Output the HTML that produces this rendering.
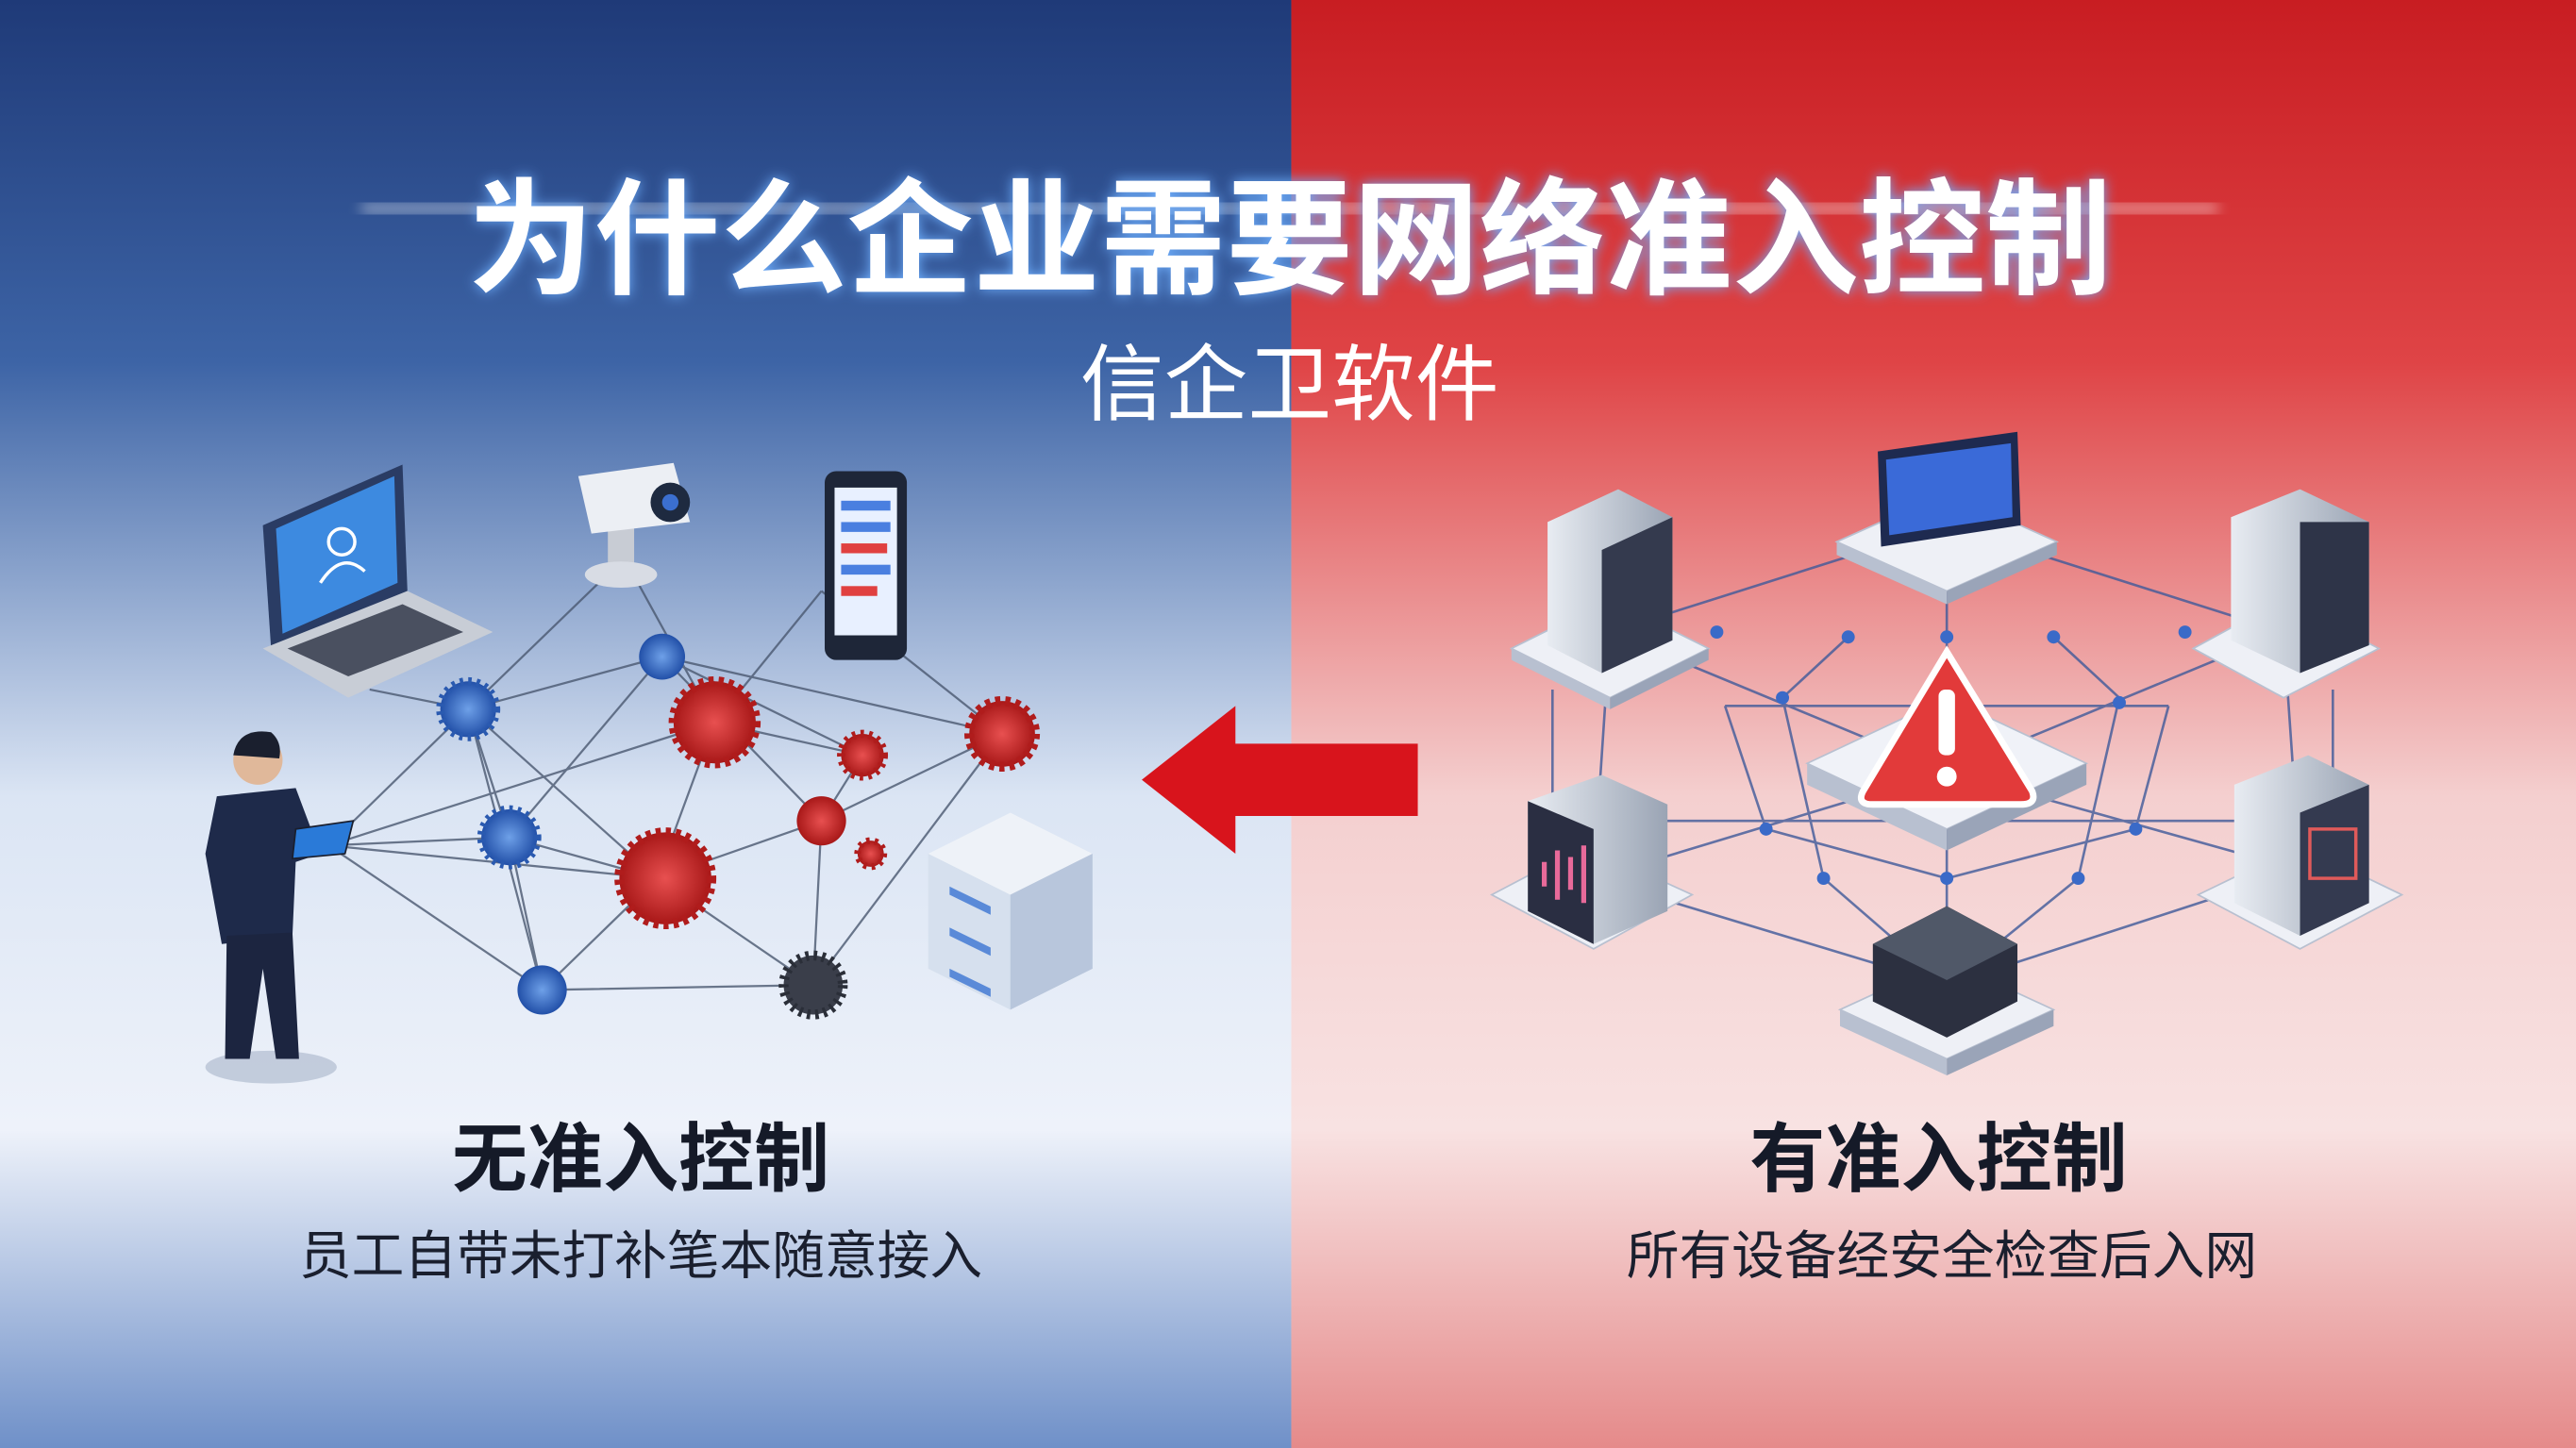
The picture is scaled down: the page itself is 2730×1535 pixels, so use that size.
<!DOCTYPE html>
<html><head><meta charset="utf-8"><style>
html,body{margin:0;padding:0;width:2730px;height:1535px;overflow:hidden}
svg{display:block}
text{font-family:"Liberation Sans","Noto Sans CJK SC",sans-serif}
</style></head><body>
<svg width="2730" height="1535" viewBox="0 0 1568 882" preserveAspectRatio="none" xmlns="http://www.w3.org/2000/svg">
<defs>
<linearGradient id="lb" x1="0" y1="0" x2="0" y2="1">
<stop offset="0" stop-color="#1f3a78"/><stop offset="0.25" stop-color="#3d64a6"/><stop offset="0.55" stop-color="#dbe5f4"/><stop offset="0.78" stop-color="#eef2fa"/><stop offset="1" stop-color="#6f90c8"/></linearGradient>
<linearGradient id="rb" x1="0" y1="0" x2="0" y2="1">
<stop offset="0" stop-color="#c81d22"/><stop offset="0.25" stop-color="#df4446"/><stop offset="0.55" stop-color="#f4cfcf"/><stop offset="0.78" stop-color="#f8e2e2"/><stop offset="1" stop-color="#e58a8a"/></linearGradient>
<radialGradient id="vr"><stop offset="0" stop-color="#e85050"/><stop offset="1" stop-color="#a81818"/></radialGradient>
<radialGradient id="vb"><stop offset="0" stop-color="#6ea0e8"/><stop offset="1" stop-color="#2250a8"/></radialGradient>
<filter id="gl"><feGaussianBlur stdDeviation="4"/></filter>
<linearGradient id="srv" x1="0" y1="0" x2="1" y2="0"><stop offset="0" stop-color="#e8ecf2"/><stop offset="1" stop-color="#9aa4b4"/></linearGradient>
</defs>
<rect x="0" y="0" width="786" height="882" fill="url(#lb)"/>
<rect x="786" y="0" width="782" height="882" fill="url(#rb)"/>
<!-- glow lines -->
<rect x="220" y="124" width="1130" height="6" fill="#ffffff" opacity="0.5" filter="url(#gl)"/>
<!-- title -->
<text x="785" y="173" text-anchor="middle" font-size="77" font-weight="bold" fill="#6fb0ff" filter="url(#gl)">为什么企业需要网络准入控制</text>
<text x="785" y="173" text-anchor="middle" font-size="77" font-weight="bold" fill="#ffffff">为什么企业需要网络准入控制</text>
<text x="785" y="252" text-anchor="middle" font-size="51" fill="#ffffff">信企卫软件</text>

<!-- LEFT network lines -->
<g stroke="#4a5870" stroke-width="1.3" fill="none" opacity="0.8">
<path d="M380 340 L285 432 L310 510 L330 603 L495 600 L610 447 L500 500 L400 535 L330 603"/>
<path d="M380 340 L435 440 L400 535 L285 432 L200 515 L330 603"/>
<path d="M403 400 L285 432 M403 400 L610 447 M403 400 L500 500 M403 400 L310 510 M403 400 L525 460"/>
<path d="M500 360 L435 440 M500 360 L610 447 M200 515 L400 535 M200 515 L310 510 M200 515 L435 440 M225 420 L285 432"/>
<path d="M435 440 L525 460 L500 500 L495 600 M310 510 L400 535 L495 600 M330 603 L285 432"/>
</g>
<!-- laptop -->
<g><polygon points="160,320 245,283 248,360 165,395" fill="#2a3c64"/><polygon points="168,322 240,290 242,355 172,386" fill="#3d8ae0"/>
<circle cx="208" cy="330" r="8" fill="none" stroke="#fff" stroke-width="2"/><path d="M195 355 Q208 335 222 348" stroke="#fff" stroke-width="2" fill="none"/>
<polygon points="160,395 248,360 300,385 212,425" fill="#c8cdd6"/><polygon points="175,395 245,368 282,385 212,412" fill="#4a5060"/></g>
<!-- camera -->
<g><rect x="370" y="320" width="16" height="30" fill="#c8ccd4"/><ellipse cx="378" cy="350" rx="22" ry="8" fill="#d8dce4"/>
<polygon points="352,290 410,282 420,318 360,325" fill="#eceff4"/><circle cx="408" cy="306" r="12" fill="#1e2a40"/><circle cx="408" cy="306" r="5" fill="#3b6fd0"/></g>
<!-- phone -->
<g><rect x="502" y="287" width="50" height="115" rx="7" fill="#1e2638"/><rect x="508" y="297" width="38" height="90" fill="#e8f0ff"/>
<rect x="512" y="305" width="30" height="6" fill="#4a7fe0"/><rect x="512" y="318" width="30" height="6" fill="#4a7fe0"/><rect x="512" y="331" width="28" height="6" fill="#e04040"/><rect x="512" y="344" width="30" height="6" fill="#4a7fe0"/><rect x="512" y="357" width="22" height="6" fill="#e04040"/></g>
<!-- person -->
<g><ellipse cx="165" cy="650" rx="40" ry="10" fill="#9aa8c0" opacity="0.5"/>
<circle cx="157" cy="463" r="15" fill="#e0b89a"/><path d="M142 460 Q145 443 165 446 Q172 452 170 462 Z" fill="#1a1f2e"/>
<path d="M132 485 L180 480 L195 520 L180 525 L178 570 L135 575 L125 520 Z" fill="#1e2a4a"/>
<path d="M138 570 L178 568 L182 645 L168 645 L160 590 L152 645 L137 645 Z" fill="#1c2540"/>
<polygon points="180,505 215,500 210,520 178,523" fill="#2a7ad8" stroke="#1a1f2e"/></g>
<!-- server stack left -->
<g><polygon points="565,520 615,495 665,520 665,590 615,615 565,590" fill="#d6e0ee"/><polygon points="565,520 615,545 665,520 615,495" fill="#eef2f8"/>
<polygon points="615,545 665,520 665,590 615,615" fill="#b8c6dc"/>
<rect x="578" y="540" width="25" height="5" fill="#5a8ad8" transform="skewY(26)" transform-origin="578 540"/>
<rect x="578" y="565" width="25" height="5" fill="#5a8ad8" transform="skewY(26)" transform-origin="578 565"/>
<rect x="578" y="590" width="25" height="5" fill="#5a8ad8" transform="skewY(26)" transform-origin="578 590"/></g>
<!-- viruses -->
<g stroke="#b01c1c" stroke-width="2">
<circle cx="435" cy="440" r="25" fill="url(#vr)" stroke-dasharray="3 3" stroke-width="6"/>
<circle cx="405" cy="535" r="28" fill="url(#vr)" stroke-dasharray="3 3" stroke-width="6"/>
<circle cx="610" cy="447" r="20" fill="url(#vr)" stroke-dasharray="3 3" stroke-width="6"/>
<circle cx="525" cy="460" r="13" fill="url(#vr)" stroke-dasharray="2 3" stroke-width="5"/>
<circle cx="530" cy="520" r="8" fill="url(#vr)" stroke-dasharray="2 3" stroke-width="4"/>
</g>
<g stroke="#2a5ab0" stroke-width="5" stroke-dasharray="2 3">
<circle cx="285" cy="432" r="17" fill="url(#vb)"/><circle cx="310" cy="510" r="17" fill="url(#vb)"/></g>
<circle cx="495" cy="600" r="18" fill="#3a3e4a" stroke="#2a2e38" stroke-width="6" stroke-dasharray="2 3"/>
<circle cx="403" cy="400" r="14" fill="url(#vb)"/><circle cx="330" cy="603" r="15" fill="url(#vb)"/><circle cx="500" cy="500" r="15" fill="url(#vr)"/>

<!-- arrow -->
<polygon points="695,475 752,430 752,453 863,453 863,497 752,497 752,520" fill="#d8141c"/>

<!-- RIGHT network -->
<g stroke="#3f5a9a" stroke-width="1.5" fill="none" opacity="0.8">
<path d="M980 385 L1185 320 L1390 385 M980 385 L1185 470 L1390 385 M970 535 L1185 470 L1400 530 M970 535 L1185 600 L1400 530"/>
<path d="M980 385 L970 535 M1390 385 L1400 530 M1185 320 L1185 600 M1050 430 L1320 430 M1010 500 L1360 500 M1125 388 L1085 425 L1110 535 L1185 600 M1250 388 L1290 425 L1265 535 L1185 600"/>
<path d="M945 420 L945 500 M1420 420 L1420 500 M1050 430 L1075 505 L1185 535 L1300 505 L1320 430"/>
</g>
<g fill="#3a6ac8">
<circle cx="1125" cy="388" r="4"/><circle cx="1250" cy="388" r="4"/><circle cx="1185" cy="388" r="4"/><circle cx="1085" cy="425" r="4"/><circle cx="1290" cy="428" r="4"/><circle cx="1075" cy="505" r="4"/><circle cx="1300" cy="505" r="4"/><circle cx="1110" cy="535" r="4"/><circle cx="1265" cy="535" r="4"/><circle cx="1185" cy="535" r="4"/><circle cx="1045" cy="385" r="4"/><circle cx="1330" cy="385" r="4"/></g>
<!-- platforms helper: servers -->
<g>
<polygon points="920,395 980,365 1040,395 980,425" fill="#eef0f6" stroke="#b8c0d0"/><polygon points="920,395 980,425 980,432 920,402" fill="#b8c0d0"/><polygon points="980,425 1040,395 1040,402 980,432" fill="#9aa4b8"/>
<polygon points="942,318 985,298 1018,315 1018,390 975,410 942,393" fill="url(#srv)"/><polygon points="975,335 1018,315 1018,390 975,410" fill="#343a4e"/>
<polygon points="1335,395 1390,365 1448,395 1390,425" fill="#eef0f6" stroke="#b8c0d0"/>
<polygon points="1358,315 1400,298 1442,318 1442,393 1400,410 1358,390" fill="url(#srv)"/><polygon points="1400,318 1442,318 1442,393 1400,410" fill="#2e3448"/>
<polygon points="1118,330 1185,300 1252,330 1185,360" fill="#eef0f6" stroke="#b8c0d0"/><polygon points="1118,330 1185,360 1185,368 1118,338" fill="#b8c0d0"/><polygon points="1185,360 1252,330 1252,338 1185,368" fill="#9aa4b8"/>
<polygon points="1143,275 1228,263 1230,320 1145,333" fill="#1e2a50"/><polygon points="1148,280 1224,270 1225,315 1150,326" fill="#3a6ad8"/>
<polygon points="908,545 965,515 1030,545 970,578" fill="#eef0f6" stroke="#b8c0d0"/>
<polygon points="930,488 975,472 1015,490 1015,555 970,575 930,555" fill="url(#srv)"/><polygon points="930,488 970,505 970,575 930,555" fill="#2a2e42"/>
<path d="M940 525 L940 540 M948 518 L948 548 M956 522 L956 542 M964 515 L964 550" stroke="#e86a9a" stroke-width="3"/>
<polygon points="1338,545 1400,515 1462,545 1400,578" fill="#eef0f6" stroke="#b8c0d0"/>
<polygon points="1360,478 1405,460 1442,478 1442,550 1400,570 1360,550" fill="url(#srv)"/><polygon points="1400,495 1442,478 1442,550 1400,570" fill="#343a50"/>
<rect x="1406" y="505" width="28" height="30" fill="none" stroke="#e05a5a" stroke-width="2"/>
<polygon points="1120,615 1185,585 1250,615 1185,645" fill="#eef0f6" stroke="#b8c0d0"/><polygon points="1120,615 1185,645 1185,655 1120,625" fill="#b8c0d0"/><polygon points="1185,645 1250,615 1250,625 1185,655" fill="#9aa4b8"/>
<polygon points="1140,575 1185,552 1228,575 1228,610 1185,632 1140,610" fill="#2c3040"/><polygon points="1140,575 1185,597 1228,575 1185,552" fill="#505868"/>
<!-- center warning -->
<polygon points="1100,465 1185,425 1270,465 1185,505" fill="#f0f2f8" stroke="#b8c0d0"/><polygon points="1100,465 1185,505 1185,518 1100,478" fill="#b8c0d0"/><polygon points="1185,505 1270,465 1270,478 1185,518" fill="#9aa4b8"/>
<path d="M1185 397 L1237 482 Q1240 490 1230 490 L1140 490 Q1130 490 1134 482 Z" fill="#e23a3a" stroke="#ffffff" stroke-width="4"/>
<rect x="1180" y="420" width="10" height="40" rx="4" fill="#fff"/><circle cx="1185" cy="473" r="6" fill="#fff"/>
</g>

<!-- labels -->
<text x="390" y="722" text-anchor="middle" font-size="46" font-weight="bold" fill="#151a28">无准入控制</text>
<text x="390" y="776" text-anchor="middle" font-size="32" fill="#1a1f2e">员工自带未打补笔本随意接入</text>
<text x="1180" y="722" text-anchor="middle" font-size="46" font-weight="bold" fill="#151a28">有准入控制</text>
<text x="1182" y="776" text-anchor="middle" font-size="32" fill="#1a1f2e">所有设备经安全检查后入网</text>
</svg>
</body></html>
